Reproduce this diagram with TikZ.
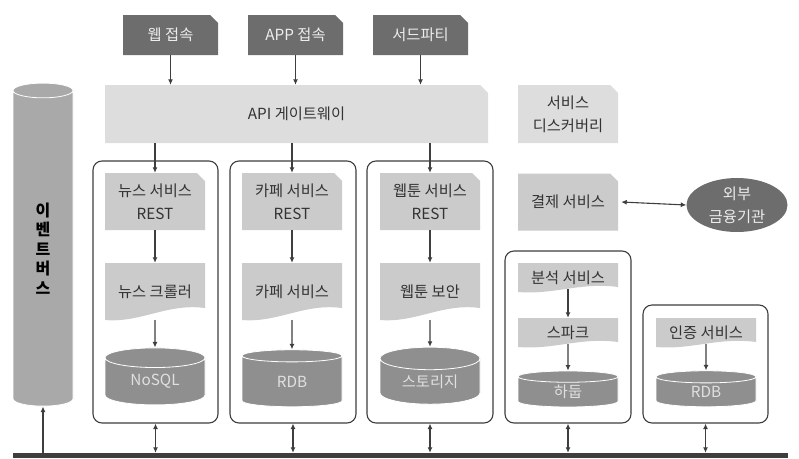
\documentclass[tikz,border=0pt]{standalone}
\usepackage{fontspec}
\setmainfont{Noto Sans CJK KR}
\usetikzlibrary{shapes.geometric,arrows.meta,calc}
\definecolor{darkbox}{HTML}{6D6D6D}
\definecolor{lightbox}{HTML}{DDDDDD}
\definecolor{midbox}{HTML}{CBCBCB}
\definecolor{dbfill}{HTML}{8F8F8F}
\definecolor{evfill}{HTML}{A9A9A9}
\definecolor{lineclr}{HTML}{3E3E3E}
\definecolor{txtclr}{HTML}{333333}
\tikzset{
  lbl/.style={font=\fontsize{15.3}{23}\selectfont, text=txtclr, align=center, inner sep=0pt},
  cutbox/.style={lbl, path picture={
      \fill[#1] (path picture bounding box.south west) -- (path picture bounding box.north west)
        -- ($(path picture bounding box.north east)+(-8pt,0)$)
        -- ($(path picture bounding box.north east)+(0,-8pt)$)
        -- (path picture bounding box.south east) -- cycle;}},
  docbox/.style={lbl, path picture={
      \fill[midbox] (path picture bounding box.south west) -- (path picture bounding box.north west)
        -- (path picture bounding box.north east) -- ($(path picture bounding box.south east)+(0,#1)$)
        .. controls ($(path picture bounding box.south)+(12pt,#1+5pt)$)
        and ($(path picture bounding box.south)+(-14pt,-3pt)$) .. (path picture bounding box.south west)
        -- cycle;}},
  srcbox/.style={cutbox=darkbox, text=white!93!black, minimum width=95pt, minimum height=40pt},
  svcbox/.style={cutbox=midbox, minimum width=100pt, minimum height=57pt},
  group/.style={draw=lineclr, line width=1.1pt, rounded corners=9pt},
  db/.style={cylinder, shape border rotate=90, aspect=0.4, draw=white, line width=0.8pt,
             fill=dbfill, text=white!88!black, font=\fontsize{15.3}{23}\selectfont, inner sep=0pt},
  arr/.style={-{Latex[length=5.5pt,width=5pt]}, lineclr, line width=1.1pt},
  darr/.style={{Latex[length=5.5pt,width=5pt]}-{Latex[length=5.5pt,width=5pt]}, lineclr, line width=1.1pt},
}
\begin{document}
\begin{tikzpicture}[x=1pt, y=-1pt]
    \useasboundingbox (0,0) rectangle (799,458);
    \node[group, minimum width=125pt, minimum height=262pt] (g1) at (155.5,292) {};
    \node[group, minimum width=126pt, minimum height=262pt] (g2) at (293,292) {};
    \node[group, minimum width=126pt, minimum height=262pt] (g3) at (430,292) {};
    \node[group, minimum width=126pt, minimum height=172pt] (g4) at (568,337) {};
    \node[group, minimum width=125pt, minimum height=118pt] (g5) at (705.5,364) {};

    \node[srcbox] (web) at (170.5,35) {웹 접속};
    \node[srcbox] (app) at (295.5,35) {APP 접속};
    \node[srcbox] (third) at (420.5,35) {서드파티};
    \node[cutbox=lightbox, minimum width=383pt, minimum height=58pt] (gw) at (296.5,114) {API 게이트웨이};
    \node[cutbox=lightbox, minimum width=100pt, minimum height=58pt] (disc) at (568,114) {서비스\\디스커버리};

    \node[svcbox] (news) at (155,201.5) {뉴스 서비스\\REST};
    \node[docbox=12pt, minimum width=100pt, minimum height=57pt] (newscrawl) at (155,291.5) {뉴스 크롤러};
    \node[db, minimum width=100pt, minimum height=57pt] (newsdb) at (155,381.5) {NoSQL};

    \node[svcbox] (cafe) at (292,201.5) {카페 서비스\\REST};
    \node[docbox=12pt, minimum width=100pt, minimum height=57pt] (cafesvc) at (292,291.5) {카페 서비스};
    \node[db, minimum width=100pt, minimum height=57pt] (cafedb) at (292,381.5) {RDB};

    \node[svcbox] (toon) at (430,201.5) {웹툰 서비스\\REST};
    \node[docbox=12pt, minimum width=100pt, minimum height=57pt] (toonsec) at (430,291.5) {웹툰 보안};
    \node[db, minimum width=100pt, minimum height=57pt] (toonstore) at (430,381.5) {스토리지};

    \node[svcbox] (pay) at (568,202) {결제 서비스};
    \node[ellipse, fill=darkbox, lbl, text=white!93!black,
          minimum width=101pt, minimum height=54pt] (bank) at (737,205) {외부\\금융기관};

    \node[docbox=5pt, minimum width=100pt, minimum height=29pt] (ana) at (568,277.5) {분석 서비스};
    \node[docbox=5pt, minimum width=100pt, minimum height=29pt] (spark) at (568,332.5) {스파크};
    \node[db, minimum width=100pt, minimum height=36pt] (hadoop) at (568,392) {하둡};

    \node[docbox=5pt, minimum width=100pt, minimum height=29pt] (auth) at (706,332.5) {인증 서비스};
    \node[db, minimum width=100pt, minimum height=36pt] (authdb) at (706,392) {RDB};

    \node[cylinder, shape border rotate=90, aspect=1, draw=white, line width=0.8pt, fill=evfill,
          minimum width=60pt, minimum height=323pt, align=center, inner sep=0pt,
          font=\bfseries\fontsize{16}{19.5}\selectfont] (evbus) at (43,248.5) {이\\벤\\트\\버\\스};
    \node[fill=lineclr, minimum width=775pt, minimum height=5pt, inner sep=0pt] (bus) at (400.5,455.5) {};

    \draw[arr] (web) -- (web |- gw.north);
    \draw[arr] (app) -- (app |- gw.north);
    \draw[arr] (third) -- (third |- gw.north);
    \draw[arr] (news |- gw.south) -- (news);
    \draw[arr] (cafe |- gw.south) -- (cafe);
    \draw[arr] (toon |- gw.south) -- (toon);
    \draw[arr] (news) -- (newscrawl);
    \draw[arr] (newscrawl.south) -- (newsdb.north);
    \draw[arr] (cafe) -- (cafesvc);
    \draw[arr] (cafesvc.south) -- (cafedb.north);
    \draw[arr] (toon) -- (toonsec);
    \draw[arr] (toonsec.south) -- (toonstore.north);
    \draw[arr] ($(ana.south)+(0,3pt)$) -- (spark);
    \draw[arr] ($(spark.south)+(0,3pt)$) -- (hadoop.north);
    \draw[arr] ($(auth.south)+(0,3pt)$) -- (authdb.north);
    \draw[darr] ($(pay.east)+(3pt,0)$) -- (bank.west);
    \draw[darr] (g1.south) -- (g1.south |- bus.north);
    \draw[darr] (g2.south) -- (g2.south |- bus.north);
    \draw[darr] (g3.south) -- (g3.south |- bus.north);
    \draw[darr] (g4.south) -- (g4.south |- bus.north);
    \draw[darr] (g5.south) -- (g5.south |- bus.north);
    \draw[arr] (bus.north -| evbus.south) -- (evbus.south);
  \end{tikzpicture}
\end{document}
